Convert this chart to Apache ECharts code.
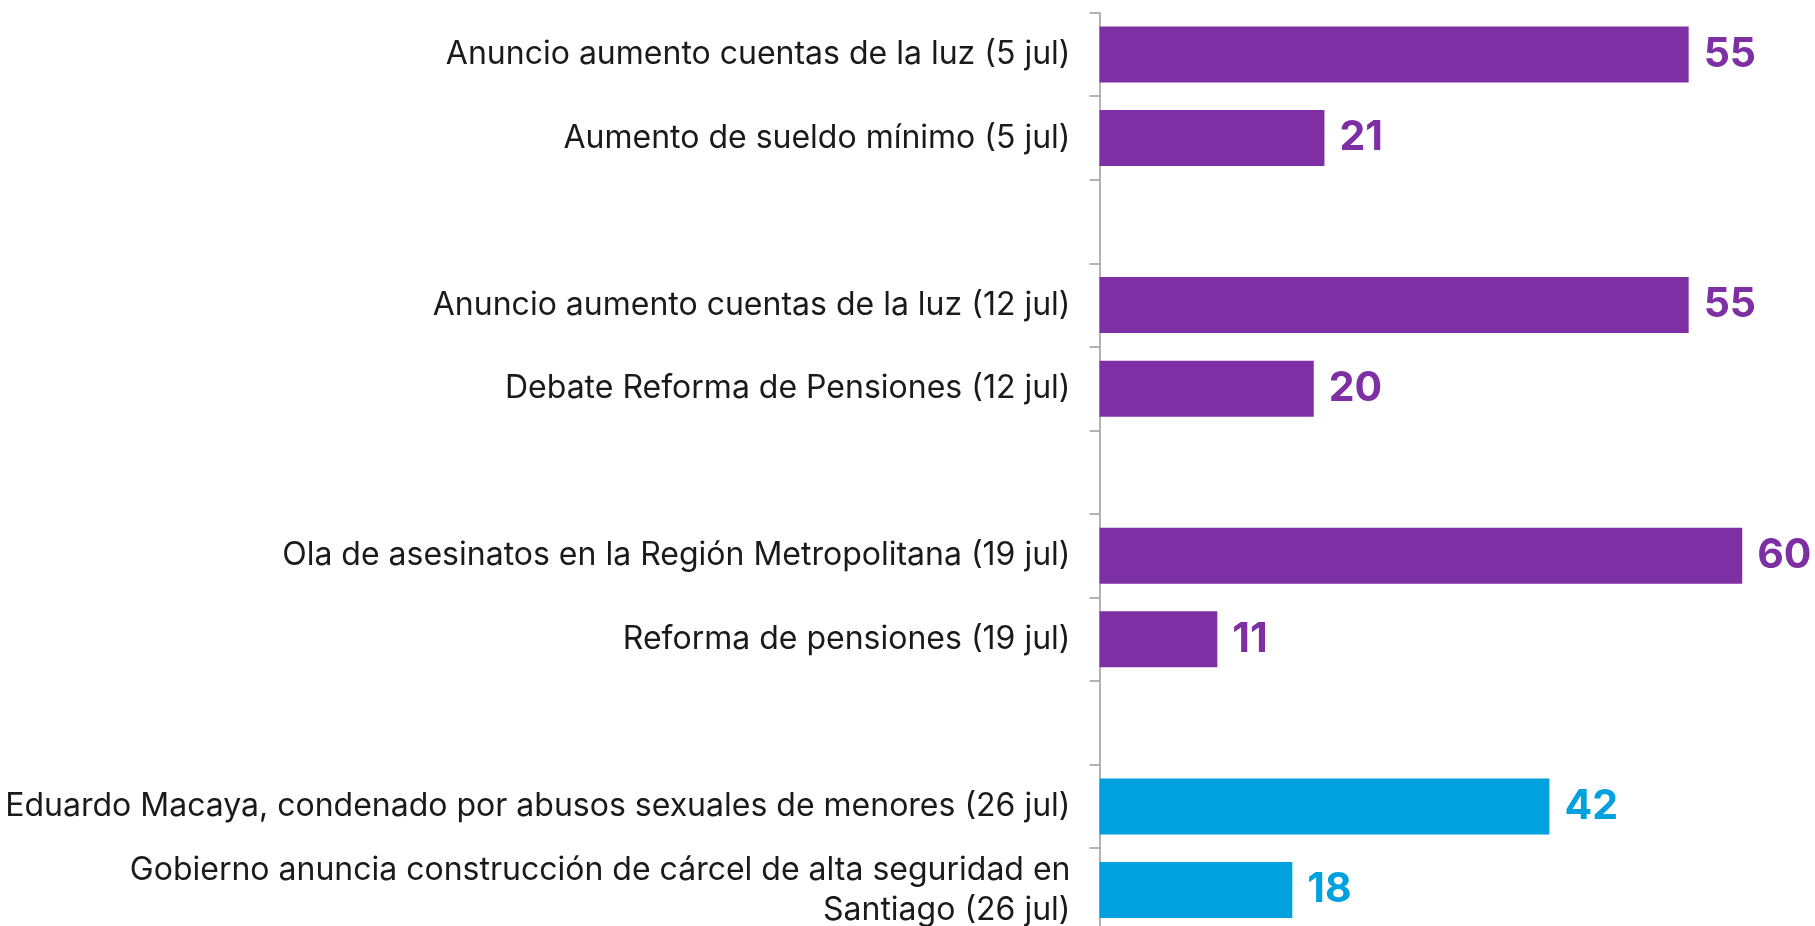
<!DOCTYPE html>
<html>
<head>
<meta charset="utf-8">
<script src="https://cdn.jsdelivr.net/npm/echarts@6/dist/echarts.min.js"></script>
<style>
  html, body { margin: 0; padding: 0; background: #fff; }
  #chart { width: 1815px; height: 926px; }
</style>
</head>
<body>
<div id="chart"></div>
<script>
// categorías (de arriba a abajo); las vacías son separadores entre semanas
const categories = [
  "Anuncio aumento cuentas de la luz (5 jul)",
  "Aumento de sueldo mínimo (5 jul)",
  "",
  "Anuncio aumento cuentas de la luz (12 jul)",
  "Debate Reforma de Pensiones (12 jul)",
  " ",
  "Ola de asesinatos en la Región Metropolitana (19 jul)",
  "Reforma de pensiones (19 jul)",
  "  ",
  "Eduardo Macaya, condenado por abusos sexuales de menores (26 jul)",
  "Gobierno anuncia construcción de cárcel de alta seguridad en\nSantiago (26 jul)"
]

// valores (%)
const values = [55, 21, null, 55, 20, null, 60, 11, null, 42, 18]

// tipo de cada barra: p = morado, b = celeste
const groups = ["p", "p", "", "p", "p", "", "p", "p", "", "b", "b"]

const colors = { p: "#7e2fa3", b: "#00a1de" }

const chart = echarts.init(document.getElementById("chart"), null, { renderer: "canvas" })

chart.setOption({
  animation: false,
  backgroundColor: "#ffffff",
  grid: { left: 1099.5, top: 12.7, width: 707, height: 919, outerBoundsMode: "none" },
  xAxis: {
    type: "value",
    min: 0,
    max: 66,
    show: false
  },
  yAxis: {
    type: "category",
    data: categories,
    inverse: true,
    axisLine: { show: true, lineStyle: { color: "#9a9a9a", width: 1.5 } },
    axisTick: { show: true, length: 10, lineStyle: { color: "#9a9a9a", width: 1.5 } },
    axisLabel: {
      margin: 29,
      fontFamily: "Inter",
      fontSize: 32,
      color: "#1a1a1a",
      lineHeight: 40,
      align: "right"
    }
  },
  series: [{
    type: "bar",
    barWidth: 56,
    data: values.map((v, i) => ({
      value: v,
      itemStyle: { color: colors[groups[i]] || "#7e2fa3" },
      label: { color: colors[groups[i]] || "#7e2fa3" }
    })),
    label: {
      show: true,
      position: "right",
      distance: 15,
      fontFamily: "Inter",
      fontWeight: 700,
      fontSize: 41
    }
  }]
})
</script>
</body>
</html>
